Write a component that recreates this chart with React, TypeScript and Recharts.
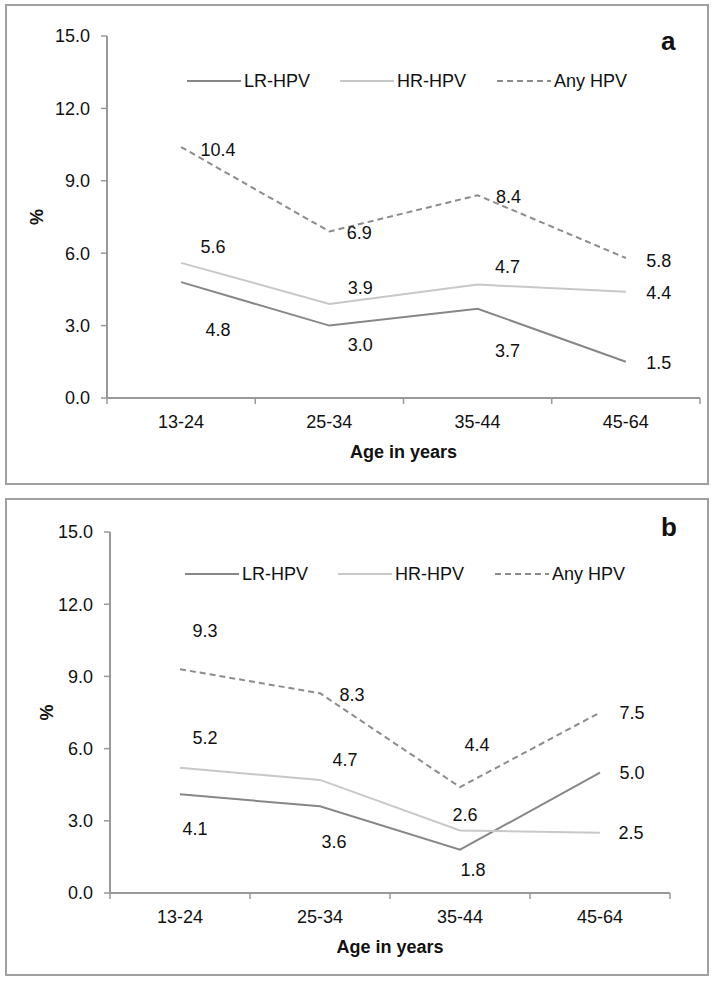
import React from 'react';
import { LineChart, Line, XAxis, YAxis, Legend, LabelList } from 'recharts';

// age groups on the x axis
const categories = ['13-24', '25-34', '35-44', '45-64'];
const yTicks = [0, 3, 6, 9, 12, 15];

// panel a
const lrA = [4.8, 3.0, 3.7, 1.5];
const hrA = [5.6, 3.9, 4.7, 4.4];
const anyA = [10.4, 6.9, 8.4, 5.8];

// panel b
const lrB = [4.1, 3.6, 1.8, 5.0];
const hrB = [5.2, 4.7, 2.6, 2.5];
const anyB = [9.3, 8.3, 4.4, 7.5];

const FONT = '"Liberation Sans", Arial, Helvetica, sans-serif';
const FS = 18;
const AXIS = '#999999';
const LR_COLOR = '#878787';
const HR_COLOR = '#c8c8c8';
const ANY_COLOR = '#8c8c8c';

// where each value label sits relative to its point (manual, like the original)
const labelPosA = {
  any: [[37, 3], [30, 2], [31, 2], [33, 3]],
  hr: [[32, -16], [31, -16], [30, -18], [33, 1]],
  lr: [[37, 48], [31, 19], [30, 42], [33, 1]],
};
const labelPosB = {
  any: [[25, -38], [32, 2], [17, -42], [32, 0]],
  hr: [[25, -30], [25, -20], [5, -15], [31, 0]],
  lr: [[15, 35], [14, 36], [13, 20], [32, 0]],
};

const buildRows = (lr: number[], hr: number[], any: number[]) =>
  categories.map((age, i) => ({ age, lr: lr[i], hr: hr[i], any: any[i] }));

const valueLabel = (offs: number[][]) => (props: any) => {
  const { x, y, value, index } = props;
  if (x == null || y == null) return null;
  const [dx, dy] = offs[index] || [0, 0];
  return (
    <text
      x={x + dx}
      y={y + dy}
      textAnchor="middle"
      dominantBaseline="central"
      fontSize={FS}
      fontFamily={FONT}
      fill="#111"
    >
      {Number(value).toFixed(1)}
    </text>
  );
};

const LegendBox = () => {
  const items = [
    { name: 'LR-HPV', color: LR_COLOR, dash: undefined, left: 0 },
    { name: 'HR-HPV', color: HR_COLOR, dash: undefined, left: 153 },
    { name: 'Any HPV', color: ANY_COLOR, dash: '6 4', left: 310 },
  ];
  return (
    <div style={{ position: 'relative', width: 450, height: 22 }}>
      {items.map((it) => (
        <div
          key={it.name}
          style={{ position: 'absolute', left: it.left, top: 0, display: 'flex', alignItems: 'center', height: 22 }}
        >
          <svg width={54} height={4}>
            <line x1={0} y1={2} x2={54} y2={2} stroke={it.color} strokeWidth={2} strokeDasharray={it.dash} />
          </svg>
          <span style={{ marginLeft: 3, fontSize: FS, fontFamily: FONT, color: '#111' }}>{it.name}</span>
        </div>
      ))}
    </div>
  );
};

interface PanelProps {
  letter: string;
  lr: number[];
  hr: number[];
  any: number[];
  pos: { any: number[][]; hr: number[][]; lr: number[][] };
  top: number;
  height: number;
  plotTop: number;
  plotBottom: number;
  plotLeft: number;
  plotRight: number;
  legendTop: number;
  legendLeft: number;
  pctX: number;
  boxTop: number;
  boxHeight: number;
  letterTop: number;
}

function Panel(p: PanelProps) {
  const rows = buildRows(p.lr, p.hr, p.any);
  const width = 714;
  const bw = (p.plotRight - p.plotLeft) / categories.length;

  const AgeTick = (props: any) => {
    const { x, y, payload } = props;
    const last = payload.value === categories[categories.length - 1];
    return (
      <g>
        <line x1={x - bw / 2} y1={y} x2={x - bw / 2} y2={y + 6} stroke={AXIS} strokeWidth={1.5} />
        {last && <line x1={x + bw / 2} y1={y} x2={x + bw / 2} y2={y + 6} stroke={AXIS} strokeWidth={1.5} />}
        <text x={x} y={y + 24} textAnchor="middle" dominantBaseline="central" fontSize={FS} fontFamily={FONT} fill="#111">
          {payload.value}
        </text>
      </g>
    );
  };

  return (
    <>
      <div
        style={{
          position: 'absolute',
          left: 5,
          top: p.boxTop,
          width: 704,
          height: p.boxHeight,
          border: '2px solid #a0a0a0',
          boxSizing: 'border-box',
        }}
      />
      <div style={{ position: 'absolute', left: 0, top: p.top }}>
        <LineChart
          width={width}
          height={p.height}
          data={rows}
          margin={{ top: p.plotTop - p.top, right: width - p.plotRight, left: 0, bottom: 0 }}
        >
          <XAxis
            dataKey="age"
            scale="band"
            height={p.top + p.height - p.plotBottom}
            axisLine={{ stroke: AXIS, strokeWidth: 2 }}
            tickLine={false}
            tickSize={0}
            tickMargin={0}
            tick={AgeTick}
            interval={0}
            label={{
              content: (lp: any) => {
                const vb = lp.viewBox || {};
                return (
                  <text
                    x={p.plotLeft + (p.plotRight - p.plotLeft) / 2}
                    y={(vb.y ?? p.plotBottom - p.top) + 54}
                    textAnchor="middle"
                    dominantBaseline="central"
                    fontSize={FS}
                    fontWeight="bold"
                    fontFamily={FONT}
                    fill="#111"
                  >
                    Age in years
                  </text>
                );
              },
            }}
          />
          <YAxis
            width={p.plotLeft}
            domain={[0, 15]}
            ticks={yTicks}
            interval={0}
            tickFormatter={(v: number) => v.toFixed(1)}
            axisLine={{ stroke: AXIS, strokeWidth: 2 }}
            tickLine={{ stroke: AXIS, strokeWidth: 1.5 }}
            tickSize={6}
            tickMargin={11}
            tick={{ fontSize: FS, fontFamily: FONT, fill: '#111' }}
            label={{
              content: () => {
                const cy = (p.plotTop + p.plotBottom) / 2 - p.top;
                return (
                  <text
                    x={p.pctX}
                    y={cy}
                    transform={`rotate(-90, ${p.pctX}, ${cy})`}
                    textAnchor="middle"
                    dominantBaseline="central"
                    fontSize={FS}
                    fontWeight="bold"
                    fontFamily={FONT}
                    fill="#111"
                  >
                    %
                  </text>
                );
              },
            }}
          />
          <Legend
            verticalAlign="middle"
            layout="horizontal"
            content={() => <LegendBox />}
            wrapperStyle={{ top: p.legendTop - p.top - 11, left: p.legendLeft, width: 450 }}
          />
          <Line
            dataKey="lr"
            name="LR-HPV"
            stroke={LR_COLOR}
            strokeWidth={2}
            dot={false}
            isAnimationActive={false}
          >
            <LabelList dataKey="lr" content={valueLabel(p.pos.lr)} />
          </Line>
          <Line
            dataKey="hr"
            name="HR-HPV"
            stroke={HR_COLOR}
            strokeWidth={2}
            dot={false}
            isAnimationActive={false}
          >
            <LabelList dataKey="hr" content={valueLabel(p.pos.hr)} />
          </Line>
          <Line
            dataKey="any"
            name="Any HPV"
            stroke={ANY_COLOR}
            strokeWidth={2}
            strokeDasharray="6 4"
            dot={false}
            isAnimationActive={false}
          >
            <LabelList dataKey="any" content={valueLabel(p.pos.any)} />
          </Line>
        </LineChart>
      </div>
      <div
        style={{
          position: 'absolute',
          left: 661,
          top: p.letterTop,
          fontSize: 26,
          fontWeight: 'bold',
          fontFamily: FONT,
          color: '#111',
        }}
      >
        {p.letter}
      </div>
    </>
  );
}

export default function App() {
  return (
    <div style={{ position: 'absolute', left: 0, top: 0, width: 714, height: 981, background: '#fff' }}>
      <Panel
        letter="a"
        lr={lrA}
        hr={hrA}
        any={anyA}
        pos={labelPosA}
        top={0}
        height={490}
        plotTop={36}
        plotBottom={398}
        plotLeft={107}
        plotRight={700}
        legendTop={81}
        legendLeft={187}
        pctX={37}
        boxTop={4}
        boxHeight={481}
        letterTop={26}
      />
      <Panel
        letter="b"
        lr={lrB}
        hr={hrB}
        any={anyB}
        pos={labelPosB}
        top={490}
        height={491}
        plotTop={532}
        plotBottom={893}
        plotLeft={110}
        plotRight={670}
        legendTop={574}
        legendLeft={185}
        pctX={47}
        boxTop={498}
        boxHeight={478}
        letterTop={512}
      />
    </div>
  );
}
